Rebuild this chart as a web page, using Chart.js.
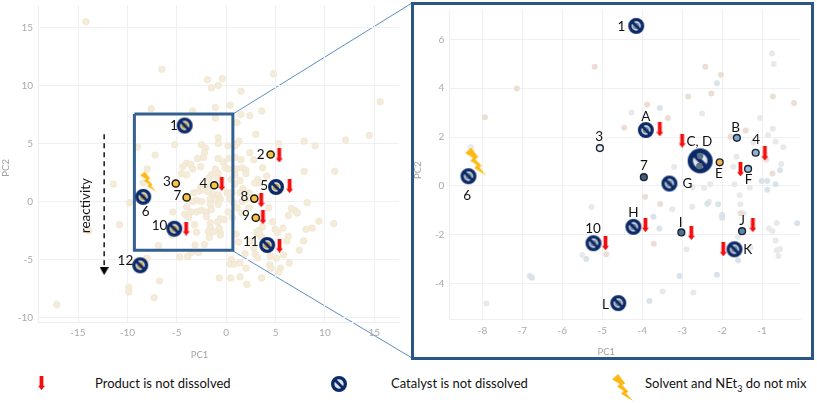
<!DOCTYPE html>
<html>
<head>
<meta charset="utf-8">
<title>PCA solvent map</title>
<script src="https://cdn.jsdelivr.net/npm/chart.js@4/dist/chart.umd.min.js"></script>
<style>
    html, body { margin: 0; padding: 0; background: #fff; overflow: hidden; }
    body { width: 817px; height: 403px; position: relative; font-family: Lato, sans-serif; }
    canvas { position: absolute; }
    #links { position: absolute; left: 0; top: 0; }
    #frame { position: absolute; left: 411px; top: 2px; width: 397px; height: 352px; border: 3px solid #2a5587; }
    .key { position: absolute; top: 374px; font-size: 13px; color: #111; white-space: nowrap; line-height: 18px; }
    .key sub { font-size: 9px; line-height: 0; }
</style>
</head>
<body>
<svg id="links" width="817" height="403">
    <line x1="233" y1="114" x2="412" y2="3" stroke="#5b8ec4" stroke-width="1"/>
    <line x1="233" y1="251" x2="412" y2="358" stroke="#5b8ec4" stroke-width="1"/>
</svg>
<div id="frame"></div>
<canvas id="overview" width="405" height="360" style="left:0;top:0"></canvas>
<canvas id="detail" width="396" height="350" style="left:414px;top:5px"></canvas>
<div class="key" style="left:95px">Product is not dissolved</div>
<div class="key" style="left:391px">Catalyst is not dissolved</div>
<div class="key" style="left:645px">Solvent and NEt<sub>3</sub> do not mix</div>
<script>
// ---- overview chart data (PC1, PC2) ----
const overviewTicksX = [-15, -10, -5, 0, 5, 10, 15];
const overviewTicksY = [-10, -5, 0, 5, 10, 15];
const overviewCloud = [
    [-14.2,15.5],[-6.5,11.4],[-1.9,10.5],[-0.4,10.6],[-1.5,9.8],[-0.8,10],[4.8,11],[1.5,9.5],[15.6,8.6],
    [-7.6,8],[-3.4,7.8],[-1.1,8.1],[0.4,8.3],[1.5,7.5],[2.4,7.4],[3.6,7.8],[-1.1,7.2],[1.1,6.8],[3,5.8],
    [-0.8,5.5],[-0.8,5],[1.3,5.2],[1.1,5],[0.9,4.8],[0.2,4.8],[5.3,5],[7.9,5.2],[9,4.8],[12.1,5.3],[14.5,5.7],
    [-9,4.7],[-5.2,4.9],[-2.5,4.9],[-2.1,4.6],[-2.2,4.2],[-7.2,4],[-2.3,3.8],[-2.9,3.7],[-0.8,3.7],[0.3,3.7],
    [0.9,3.8],[2.4,4.2],[2.8,3.6],[1.5,3.6],[-0.3,3.4],[-4,3.3],[-3.6,3.2],[-4.4,3],[-3.4,2.8],[-2.6,3],
    [-8,2.8],[-1.1,2.8],[-0.1,2.9],[0.3,2.8],[1,2.8],[1.6,2.9],[3.7,2.9],[2,2.7],[2,2.4],[7.9,2.6],[11,2.6],
    [-4.5,2.4],[-4,2.3],[-0.8,2.4],[-1.5,2.3],[0.9,2.3],[4.1,2.2],[-1.8,2],[-0.8,2],[0.5,1.9],[1.4,1.8],
    [3.2,1.9],[-11.4,1.5],[-8.4,1.6],[0.9,1.5],[2.9,1.6],[3.4,1.6],[1.7,1.1],[-2.6,1.2],[-2.2,1.2],[-1.6,1.4],
    [-3.3,0.75],[-2.7,0.9],[-2.3,1.03],[-1.8,0.83],[-1.3,0.6],[-0.8,0.6],[0.1,0.75],[0.6,0.8],[1.4,0.75],[2.3,0.75],
    [-3,0.1],[-2.5,0],[-3.4,0],[-1.6,0.2],[-1.1,0.2],[-0.6,0.2],[0.4,0.2],[0.75,-0.1],[1.6,0],[2,0.2],
    [-9.8,-0.1],[8.2,-0.1],[-4,-0.45],[-1.6,-0.25],[-0.8,-0.25],[-3.6,-0.9],[-3,-0.9],[-2.5,-0.75],[-2,-0.9],
    [-1.5,-0.7],[0.2,-0.9],[1.1,-0.55],[1.6,-1],[2.3,-0.55],[-5.4,-0.9],[4.3,-0.55],[6.6,-0.6],[7,-0.8],[7.2,-1],
    [6.3,-1.2],[-4.2,-1.1],[-2,-1.3],[-3.8,-1.35],[-0.6,-1.5],[-0.2,-1.55],[-0.85,-1.75],[0.65,-1.4],[-3.2,-2],
    [-1.6,-1.85],[-0.7,-2.3],[-1.6,-2.3],[-1.8,-2.6],[-1.3,-2.6],[-3,-2.65],[-0.6,-2.7],[-0.6,-2.9],[-1.7,-3.1],
    [-10.8,-2],[-13.9,-2.55],[4.7,-1.75],[3.65,-2.2],[3.3,-2.5],[3.1,-2.65],[3.4,-2.85],[3.6,-3.1],[4.95,-2.4],
    [5.2,-2.7],[5.75,-2.3],[6.3,-3],[6.15,-3.4],[8.1,-2.4],[8.7,-2.3],[9.4,-1.7],[10.9,-1.9],[7.85,-3.4],[1,-2.8],
    [1.25,-3.5],[2.4,-3.4],[2.8,-4],[1.9,-4.5],[2.95,-4.55],[3.2,-4.85],[4.45,-4.7],[5.1,-4.9],[5.8,-4.6],[7.4,-4.2],
    [6.4,-5.3],[4.4,-5.45],[4.55,-5.75],[5.5,-5.75],[5.3,-6.1],[0.5,-5],[0.4,-5.4],[0.85,-5.4],[1.4,-5.3],[2,-5.75],
    [-0.7,-6.6],[0.45,-6.6],[1.4,-6.5],[3.6,-6.6],[2.1,-7.15],[-6.85,-3.8],[-3.15,-3.75],[-2.2,-3.7],[-3.55,-4.4],
    [-2.8,-4.4],[-3.9,-4.75],[-4.7,-4.8],[-8,-4.9],[-6.75,-6.85],[-9.85,-7.4],[-9.85,-7.8],[-7.3,-8.3],[-17.15,-8.9],
    [-5.5,-2.9]
];
const overviewSolvents = [[-5.1,1.55],[-1.2,1.4],[4.5,4.05],[-4,0.35],[2.85,0.25],[3,-1.4]];
const overviewCatalyst = [[-4.2,6.55],[5.05,1.25],[-8.4,0.4],[-5.25,-2.35],[4.15,-3.75],[-8.7,-5.5]];
const overviewProduct = [[5.37,3.97],[6.42,1.32],[-0.44,1.52],[3.55,0.11],[3.72,-1.35],[-4.05,-2.33],[5.4,-3.8]];
const overviewBolt = [[-7.9,1.72]];
const overviewZoomBox = [[-9.29,7.54],[0.68,7.54],[0.68,-4.2],[-9.29,-4.2],[-9.29,7.54]];
const reactivityLine = [[-12.35,5.8],[-12.35,-5.6]];
const reactivityHead = [[-12.35,-6]];
const overviewNames = ['1','2','3','4','5','6','7','8','9','10','11','12'];
const overviewNamePos = [[-5.3,6.55],[3.5,4],[-6,1.75],[-2.3,1.5],[3.85,1.4],[-8.15,-0.84],[-4.93,0.52],[1.86,0.46],[2,-1.18],[-6.75,-2.04],[2.5,-3.45],[-10.2,-5.1]];

// ---- detail chart data ----
const detailTicksX = [-8, -7, -6, -5, -4, -3, -2, -1];
const detailTicksY = [-4, -2, 0, 2, 4, 6];
const detailTan = [[-7.14,3.99],[-7.94,2.81],[-2.85,3.66],[-2.03,4.55],[-2.27,3.78],[-3.36,2.78],[-0.73,3.66],[-0.2,3.4],[-0.74,0.51],[-1.54,-1.12]];
const detailPink = [[-5.19,4.88],[-3.88,3.33],[-4.45,2.38],[-2.42,4.88],[-1.41,2.27],[-1.79,2.01],[-3.93,-0.44],[-3.55,-0.74],[-3.71,-2.36],[-0.9,1.08],[-4.9,-2.79]];
const detailBlue = [[-3.56,3.19],[-2.13,4.2],[-1.01,0.2],[-0.87,0.2],[-0.66,0.07],[-0.87,-0.15],[-0.55,0.64],[-2.37,-0.73],[-2.1,-0.75],[-3.72,-1.26],[-3.57,-1.74],[-2,-1.19],[-2,-1.3],[-0.12,-1.52],[-1.6,-3.05],[-5.4,-2.99],[-6.81,-3.68],[-6.76,-3.75],[-3.07,-3.68],[-2.13,-3.63],[-3.82,-4.7]];
const detailGrey = [[-8.29,1.58],[-4.27,3.01],[-2.5,2.97],[-1.05,2.78],[-0.75,5.42],[-0.71,4.99],[-0.73,2.34],[-0.85,2.08],[-0.66,1.82],[-0.47,1.59],[-1.22,1.78],[-1.64,1.2],[-1.72,0.79],[-3.2,0.78],[-0.52,0.9],[-2.3,0.07],[-1.69,0.07],[-2.74,-0.04],[-2.45,-0.08],[-1.31,-0.07],[-3.25,-0.95],[-2.75,-0.85],[-2.33,-0.64],[-1.56,-0.38],[-1.54,-0.75],[-5.27,-0.86],[-1.46,-1.12],[-0.63,-1.51],[-0.83,-1.74],[-0.74,-1.84],[-0.66,-2.23],[-1.6,-2.08],[-2.89,-2.59],[-1.29,-2.53],[-0.63,-2.63],[-0.55,-2.58],[-0.59,-2.86],[-5.5,-2.82],[-3.49,-4.32],[-2.72,-4.36],[-7.9,-4.81]];
const detailSolvents = [[-5.06,1.55],[-1.63,1.97],[-1.16,1.36],[-2.06,0.97],[-1.35,0.7],[-3.96,0.36],[-3.02,-1.9],[-1.5,-1.85]];
const detailSolventColors = ['#eef2f5','#7fa8cf','#8fb2d2','#f3b44c','#9cc0de','#3e5f80','#4f6f8c','#5f86ab'];
const detailCatalyst = [[-4.15,6.55],[-3.91,2.29],[-3.32,0.1],[-8.35,0.4],[-4.22,-1.67],[-1.69,-2.59],[-5.22,-2.34],[-4.6,-4.79]];
const detailCatalystBig = [[-2.55,1.03]];
const detailInnerDots = [[-2.55,1.23],[-2.57,0.82]];
const detailProduct = [[-3.56,2.32],[-3,1.86],[-0.93,1.33],[-1.54,0.68],[-3.92,-1.6],[-2.77,-1.92],[-1.23,-1.6],[-1.97,-2.59],[-4.92,-2.34]];
const detailBolt = [[-8.17,1]];
const detailNames = ['1','A','3','B','4','C, D','E','F','7','G','6','H','I','J','K','10','L'];
const detailNamePos = [[-4.52,6.53],[-3.91,2.85],[-5.08,2.01],[-1.66,2.38],[-1.15,1.9],[-2.57,1.81],[-2.08,0.51],[-1.34,0.27],[-3.96,0.85],[-2.87,0.11],[-8.38,-0.41],[-4.22,-1.1],[-3.04,-1.49],[-1.5,-1.41],[-1.36,-2.59],[-5.23,-1.74],[-4.92,-4.84]];

const toXY = list => list.map(p => ({ x: p[0], y: p[1] }));
const NAVY = '#0c2a68';

// offscreen symbols, used as pointStyle
function makeSymbol(w, h, draw) {
    const c = document.createElement('canvas');
    c.width = w;
    c.height = h;
    draw(c.getContext('2d'), w, h);
    return c;
}

function catalystIcon(r, dot) {
    const size = Math.ceil(r * 2 + 2);
    return makeSymbol(size, size, (g, w) => {
        const m = w / 2, lw = r * 0.42, a = Math.SQRT1_2 * (r - lw / 2);
        g.beginPath();
        g.arc(m, m, r - lw / 2, 0, Math.PI * 2);
        g.fillStyle = '#dfe4ea';
        g.fill();
        if (dot) {
            g.beginPath();
            g.arc(m, m, r * 0.42, 0, Math.PI * 2);
            g.fillStyle = dot;
            g.fill();
        }
        g.strokeStyle = NAVY;
        g.lineWidth = lw;
        g.beginPath();
        g.arc(m, m, r - lw / 2, 0, Math.PI * 2);
        g.stroke();
        g.lineWidth = lw * 0.85;
        g.beginPath();
        g.moveTo(m - a, m - a);
        g.lineTo(m + a, m + a);
        g.stroke();
    });
}

function redArrow(w, h) {
    return makeSymbol(w, h, g => {
        const m = w / 2, shaft = w * 0.27, neck = h * 0.7;
        g.fillStyle = '#f40d0d';
        g.beginPath();
        g.moveTo(m - shaft, 0);
        g.lineTo(m + shaft, 0);
        g.lineTo(m + shaft, neck);
        g.lineTo(w, neck);
        g.lineTo(m, h);
        g.lineTo(0, neck);
        g.lineTo(m - shaft, neck);
        g.closePath();
        g.fill();
    });
}

function bolt(w, h) {
    return makeSymbol(w, h, g => {
        const shape = [[0.29,0],[0.63,0.35],[0.48,0.41],[0.79,0.66],[0.67,0.7],[1,1],[0.43,0.73],[0.56,0.62],[0.24,0.47],[0.37,0.37],[0,0.2]];
        g.fillStyle = '#fdb913';
        g.beginPath();
        shape.forEach((p, i) => i ? g.lineTo(p[0] * w, p[1] * h) : g.moveTo(p[0] * w, p[1] * h));
        g.closePath();
        g.fill();
    });
}

const blackHead = makeSymbol(9, 8, g => {
    g.fillStyle = '#000';
    g.beginPath();
    g.moveTo(0, 0);
    g.lineTo(9, 0);
    g.lineTo(4.5, 8);
    g.closePath();
    g.fill();
});

// text placed at data coordinates
const textNotes = {
    id: 'textNotes',
    afterDatasetsDraw(chart, args, opts) {
        const g = chart.ctx;
        opts.items.forEach(t => {
            g.save();
            g.translate(chart.scales.x.getPixelForValue(t.x), chart.scales.y.getPixelForValue(t.y));
            if (t.rotate) g.rotate(t.rotate);
            g.font = t.font;
            g.fillStyle = t.color;
            g.textAlign = 'center';
            g.textBaseline = 'middle';
            g.fillText(t.text, 0, 0);
            g.restore();
        });
    }
};

function scatterSet(list, style) {
    return Object.assign({ data: toXY(list), showLine: false, pointBorderWidth: 0 }, style);
}

function axis(range, ticks, boxSize, isY) {
    return {
        type: 'linear',
        min: range[0],
        max: range[1],
        afterBuildTicks: s => { s.ticks = ticks.map(v => ({ value: v })); },
        afterFit: s => {
            if (isY) s.width = boxSize; else s.height = boxSize;
            // tick labels must not push the plot area in
            s.paddingTop = s.paddingBottom = s.paddingLeft = s.paddingRight = 0;
        },
        grid: { color: '#eef0f4', lineWidth: 1, drawTicks: false },
        border: { color: '#eceef2' },
        ticks: { color: '#a9a9a9', font: { family: 'Lato', size: 10 }, padding: 5, maxRotation: 0 }
    };
}

function makeChart(id, sets, xAxis, yAxis, padding, notes) {
    return new Chart(document.getElementById(id), {
        type: 'scatter',
        data: { datasets: sets },
        options: {
            responsive: false,
            animation: false,
            layout: { padding: padding, autoPadding: false },
            scales: { x: xAxis, y: yAxis },
            plugins: { legend: { display: false }, tooltip: { enabled: false }, textNotes: { items: notes } }
        },
        plugins: [textNotes]
    });
}

const nameNotes = (names, pos) => names.map((n, i) => ({
    text: n, x: pos[i][0], y: pos[i][1], font: '13.5px Lato', color: '#111'
}));
const axisNote = (text, x, y, rotate) => ({ text, x, y, rotate, font: '9.5px Lato', color: '#a3a3a3' });

// first dataset ends up on top
makeChart('overview', [
    scatterSet(overviewProduct, { pointStyle: redArrow(7, 14), pointRadius: 7 }),
    scatterSet(overviewBolt, { pointStyle: bolt(16, 20), pointRadius: 10 }),
    scatterSet(overviewCatalyst, { pointStyle: catalystIcon(8, '#c9a13c'), pointRadius: 8 }),
    scatterSet(overviewSolvents, { pointRadius: 3.6, pointBackgroundColor: '#f6c342', pointBorderColor: '#1a1a1a', pointBorderWidth: 1.5 }),
    scatterSet(reactivityHead, { pointStyle: blackHead, pointRadius: 5 }),
    { data: toXY(reactivityLine), showLine: true, pointRadius: 0, borderColor: '#222', borderWidth: 1.6, borderDash: [5, 4] },
    { data: toXY(overviewZoomBox), showLine: true, pointRadius: 0, borderColor: '#33608f', borderWidth: 3 },
    scatterSet(overviewCloud, { pointRadius: 3.3, pointBackgroundColor: '#f4ecd9', pointBorderColor: '#eee3cb', pointBorderWidth: 0.6 })
], axis([-19.05, 17.5], overviewTicksX, 38, false), axis([-10.39, 16.94], overviewTicksY, 38, true),
    { top: 5, right: 6 },
    nameNotes(overviewNames, overviewNamePos).concat([
        { text: 'reactivity', x: -14.2, y: -0.35, rotate: -Math.PI / 2, font: '13.5px Lato', color: '#111' },
        axisNote('PC1', -2.7, -13.25),
        axisNote('PC2', -22.3, 2.9, -Math.PI / 2)
    ]));

makeChart('detail', [
    scatterSet(detailProduct, { pointStyle: redArrow(7, 14), pointRadius: 7 }),
    scatterSet(detailInnerDots, { pointRadius: 3.2, pointBackgroundColor: '#5c7286' }),
    scatterSet(detailBolt, { pointStyle: bolt(21, 28), pointRadius: 12 }),
    scatterSet(detailCatalystBig, { pointStyle: catalystIcon(12.5), pointRadius: 13 }),
    scatterSet(detailCatalyst, { pointStyle: catalystIcon(8, '#7d8a98'), pointRadius: 8 }),
    scatterSet(detailSolvents, { pointRadius: 3.4, pointBackgroundColor: detailSolventColors, pointBorderColor: '#1a2430', pointBorderWidth: 1.4 }),
    scatterSet(detailTan, { pointRadius: 3, pointBackgroundColor: '#eadfd0' }),
    scatterSet(detailPink, { pointRadius: 3, pointBackgroundColor: '#eedcd5' }),
    scatterSet(detailBlue, { pointRadius: 3, pointBackgroundColor: '#d8e3ea' }),
    scatterSet(detailGrey, { pointRadius: 3, pointBackgroundColor: '#e7e9ea' })
], axis([-8.83, -0.05], detailTicksX, 35.3, false), axis([-5.47, 7.2], detailTicksY, 35.3, true),
    { top: 5, right: 10 },
    nameNotes(detailNames, detailNamePos).concat([
        axisNote('PC1', -4.9, -6.8),
        axisNote('PC2', -9.62, 0.65, -Math.PI / 2)
    ]));

// legend symbols
function placeIcon(icon, cx, cy) {
    icon.style.left = (cx - icon.width / 2) + 'px';
    icon.style.top = (cy - icon.height / 2) + 'px';
    document.body.appendChild(icon);
}
placeIcon(redArrow(7, 14), 41, 383);
placeIcon(catalystIcon(8), 339, 384);
placeIcon(bolt(21, 27), 622, 387);
</script>
</body>
</html>
